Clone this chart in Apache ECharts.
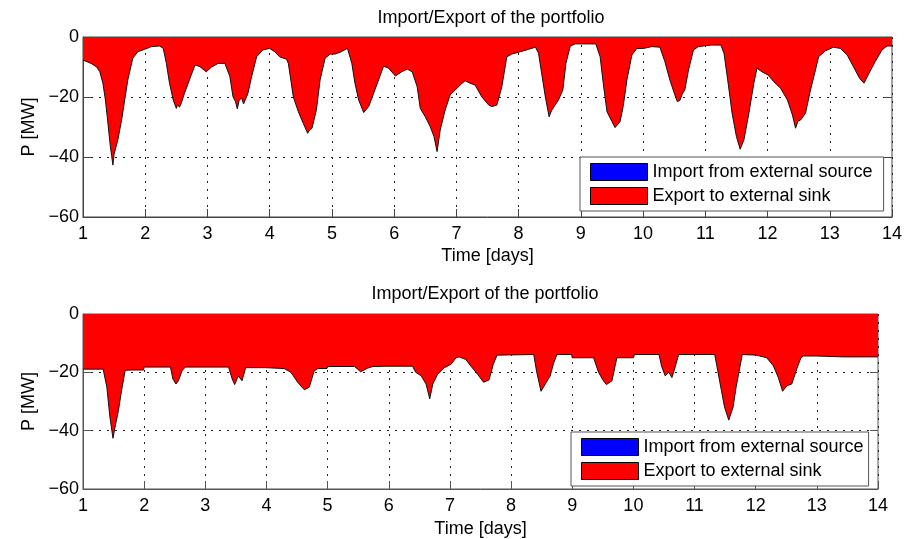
<!DOCTYPE html>
<html>
<head>
<meta charset="utf-8">
<script src="https://cdn.jsdelivr.net/npm/echarts@6/dist/echarts.min.js"></script>
<style>html,body{margin:0;padding:0;background:#fff;}#c{width:913px;height:539px;}</style>
</head>
<body>
<div id="c"></div>
<script>
var titleText = "Import/Export of the portfolio";
var xName = "Time [days]";
var yName = "P [MW]";
var importName = "Import from external source";
var exportName = "Export to external sink";
var xTicks = [1,2,3,4,5,6,7,8,9,10,11,12,13,14];
var yTicks = [-60,-40,-20,0];

var topTime = [1.00,1.13,1.22,1.27,1.32,1.36,1.39,1.44,1.46,1.48,1.50,1.52,1.56,1.62,1.67,1.72,1.80,1.88,1.99,2.10,2.23,2.29,2.34,2.39,2.45,2.50,2.52,2.55,2.58,2.63,2.71,2.80,2.88,2.98,3.06,3.17,3.28,3.36,3.41,3.45,3.48,3.51,3.55,3.58,3.60,3.65,3.71,3.79,3.89,4.00,4.08,4.16,4.27,4.30,4.38,4.46,4.54,4.61,4.64,4.68,4.75,4.81,4.89,4.97,5.05,5.13,5.25,5.32,5.37,5.43,5.51,5.59,5.67,5.75,5.83,5.91,6.02,6.12,6.21,6.29,6.37,6.42,6.50,6.58,6.64,6.69,6.74,6.82,6.90,6.98,7.06,7.14,7.22,7.30,7.41,7.52,7.57,7.65,7.73,7.81,7.89,8.03,8.16,8.27,8.32,8.37,8.43,8.49,8.53,8.56,8.64,8.71,8.76,8.83,8.91,9.07,9.24,9.31,9.36,9.42,9.50,9.55,9.63,9.68,9.74,9.82,9.90,10.01,10.14,10.27,10.35,10.43,10.51,10.55,10.59,10.63,10.67,10.73,10.81,10.89,11.09,11.25,11.30,11.36,11.43,11.50,11.56,11.62,11.70,11.78,11.83,11.91,12.01,12.10,12.21,12.32,12.40,12.45,12.49,12.53,12.61,12.69,12.77,12.82,12.93,13.06,13.17,13.28,13.38,13.48,13.55,13.63,13.73,13.84,13.92,14.00];
var topExport = [-7.7,-8.8,-10,-11.6,-15.4,-21,-26.6,-36.6,-39.5,-42.7,-39,-38.8,-34.3,-27.7,-21,-14.3,-7.1,-4.9,-4.1,-3.2,-3.0,-3.8,-8.8,-15.4,-21,-23.8,-22.5,-23.4,-22,-18.8,-14.3,-9.3,-9.9,-11.6,-10.1,-8.8,-8.8,-13.2,-19.9,-21.5,-24,-21,-20.4,-22.3,-22,-18.8,-13.2,-6.6,-4.3,-3.8,-4.9,-6.6,-7.4,-8.8,-20,-24.9,-28.8,-32.1,-31,-30.4,-24.3,-14.3,-7.1,-5.7,-5.7,-5.1,-3.8,-8.8,-15.4,-21,-25.2,-23.2,-18.8,-14.3,-9.7,-10.4,-13,-11.6,-10.7,-11.6,-16.6,-23.8,-26.6,-29.9,-33.2,-38.2,-31,-24.3,-19.3,-17.7,-16,-14.6,-15.4,-16,-20,-22.7,-23.2,-22.7,-16.6,-6.6,-5.7,-4.9,-4.1,-3.4,-5.4,-12.1,-20,-26.6,-24.5,-24.3,-21,-17.7,-8.8,-3.0,-2.3,-2.3,-2.3,-6.6,-15.4,-24.9,-28.2,-30.2,-28.2,-23.2,-14.3,-6,-3.8,-3.8,-3.2,-3.4,-8.2,-14.3,-19.3,-21.5,-21.2,-19,-17.7,-11,-4.3,-3.2,-2.7,-2.7,-5.4,-14.3,-25.4,-33.2,-37.4,-34.3,-25.4,-15.4,-10.4,-11.6,-12.7,-14.9,-17.1,-21,-26,-30.4,-28,-27.7,-25.4,-17.7,-11,-6.6,-4.6,-3.4,-3.8,-6,-9.9,-13.8,-15.4,-12.1,-8.2,-4.3,-3,-3];

var bottomTime = [1.00,1.33,1.39,1.44,1.49,1.52,1.58,1.63,1.69,1.80,1.99,2.00,2.43,2.47,2.52,2.56,2.62,2.67,3.38,3.44,3.48,3.54,3.60,3.66,3.98,4.00,4.29,4.40,4.51,4.62,4.70,4.78,4.84,4.99,5.00,5.44,5.54,5.65,5.74,5.97,6.39,6.44,6.53,6.61,6.67,6.72,6.80,6.91,7.02,7.10,7.15,7.26,7.34,7.45,7.55,7.64,7.71,7.77,8.37,8.42,8.49,8.56,8.64,8.69,8.75,8.99,9.00,9.35,9.43,9.51,9.56,9.65,9.73,10.00,10.02,10.42,10.46,10.52,10.58,10.63,10.68,10.74,11.33,11.38,11.44,11.49,11.56,11.63,11.68,11.74,11.78,12.01,12.18,12.29,12.37,12.44,12.51,12.59,12.67,12.74,12.78,12.99,13.44,14.00];
var bottomExport = [-18.9,-18.9,-25.1,-35.3,-42.6,-39.2,-33,-26.3,-19.3,-19.2,-19.2,-18.2,-18.2,-22.3,-24,-22.9,-19.5,-18.2,-18.2,-22.3,-24.2,-21.2,-22.9,-18.4,-18.4,-18.9,-18.7,-20,-23.4,-26,-25.1,-19.5,-18.7,-18.7,-18,-18,-19.8,-18.6,-18,-17.9,-17.9,-20,-21.2,-24,-29.1,-24,-20.6,-18.4,-17.2,-15,-14.7,-15.6,-17.8,-20.6,-23.4,-22.6,-17.2,-14.1,-13.9,-20,-26.5,-24,-21.2,-17.2,-13.9,-13.9,-15,-15,-20,-22.9,-24.2,-22.9,-15,-15,-13.9,-13.9,-17.8,-21.2,-20,-21.8,-18.4,-13.9,-13.9,-19.5,-26.3,-31.9,-36.4,-31.9,-25.1,-18.4,-13.9,-14.1,-15,-17.8,-21.8,-26.5,-24.6,-24,-18.9,-15,-14.4,-14.4,-14.7,-14.7];

function pairs(t, v){ var out=[]; for(var i=0;i<t.length;i++) out.push([t[i], v[i]]); return out; }

var FONT = '"Liberation Sans", Arial, Helvetica, sans-serif';
var chart = echarts.init(document.getElementById('c'), null, {renderer:'canvas'});

function xAxisCfg(gi, axisColor, gap){
  return {
    type:'value', gridIndex:gi, min:xTicks[0], max:xTicks[xTicks.length-1], interval:1,
    name:xName, nameLocation:'middle', nameGap:gap,
    nameTextStyle:{color:'#000', fontSize:18, fontFamily:FONT},
    axisLine:{show:true, onZero:false, lineStyle:{color:axisColor, width:1}},
    axisTick:{show:true, inside:true, length:8, lineStyle:{color:axisColor}},
    axisLabel:{color:'#000', fontSize:18, fontFamily:FONT, margin:8},
    splitLine:{show:true, lineStyle:{color:'#222', type:[2,6], width:1}}
  };
}
function yAxisCfg(gi, axisColor){
  return {
    type:'value', gridIndex:gi, min:yTicks[0], max:yTicks[yTicks.length-1], interval:20,
    name:yName, nameLocation:'middle', nameGap:44, nameRotate:90,
    nameTextStyle:{color:'#000', fontSize:18, fontFamily:FONT},
    axisLine:{show:true, onZero:false, lineStyle:{color:axisColor, width:1}},
    axisTick:{show:true, inside:true, length:8, lineStyle:{color:axisColor}},
    axisLabel:{color:'#000', fontSize:18, fontFamily:FONT, margin:4,
      formatter:function(v){ return v<0 ? '\u2212'+Math.abs(v) : String(v); }},
    splitLine:{show:true, lineStyle:{color:'#222', type:[2,6], width:1}}
  };
}
function yRightCfg(gi, axisColor){
  return {
    type:'value', gridIndex:gi, position:'right', min:yTicks[0], max:yTicks[yTicks.length-1], interval:20,
    axisLine:{show:false}, axisTick:{show:true, inside:true, length:8, lineStyle:{color:axisColor}},
    axisLabel:{show:false}, splitLine:{show:false}
  };
}
function legendCfg(left, top, padRight){
  return {
    orient:'vertical', left:left, top:top, padding:[6,padRight,6,10],
    itemWidth:57, itemHeight:17, backgroundColor:'#fff', borderColor:'#555', borderWidth:1,
    textStyle:{color:'#000', fontSize:18, fontFamily:FONT},
    itemGap:6, icon:'rect', selectedMode:false,
    data:[
      {name:importName, icon:'rect', itemStyle:{color:'#0000ff', borderColor:'#000', borderWidth:1}},
      {name:exportName, icon:'rect', itemStyle:{color:'#ff0000', borderColor:'#000', borderWidth:1}}
    ]
  };
}
function exportSeries(gi, t, v){
  return {
    name:exportName, type:'line', xAxisIndex:gi, yAxisIndex:gi*2, data:pairs(t, v),
    symbol:'none', smooth:false, color:'#ff0000',
    lineStyle:{color:'#111', width:1}, areaStyle:{color:'#ff0000', opacity:1, origin:'end'},
    z:2, animation:false
  };
}
function importSeries(gi){
  return { name:importName, type:'line', xAxisIndex:gi, yAxisIndex:gi*2, data:[], symbol:'none', color:'#0000ff', animation:false };
}

chart.setOption({
  animation:false,
  backgroundColor:'#fff',
  title:[
    {text:titleText, left:486, top:4, textAlign:'center', textStyle:{color:'#000', fontSize:18, fontWeight:'normal', fontFamily:FONT}},
    {text:titleText, left:480, top:280, textAlign:'center', textStyle:{color:'#000', fontSize:18, fontWeight:'normal', fontFamily:FONT}}
  ],
  grid:[
    {left:83, top:37, width:809, height:180, show:true, borderColor:'#444', borderWidth:1, backgroundColor:'transparent'},
    {left:83, top:314, width:795, height:178, show:true, borderColor:'#555', borderWidth:1, backgroundColor:'transparent'}
  ],
  legend:[legendCfg(580, 157, 11), legendCfg(571, 432, 5)],
  xAxis:[xAxisCfg(0,'#444',30), xAxisCfg(1,'#555',31)],
  yAxis:[yAxisCfg(0,'#444'), yRightCfg(0,'#444'), yAxisCfg(1,'#555'), yRightCfg(1,'#555')],
  series:[importSeries(0), exportSeries(0, topTime, topExport), importSeries(1), exportSeries(1, bottomTime, bottomExport)]
});
</script>
</body>
</html>
